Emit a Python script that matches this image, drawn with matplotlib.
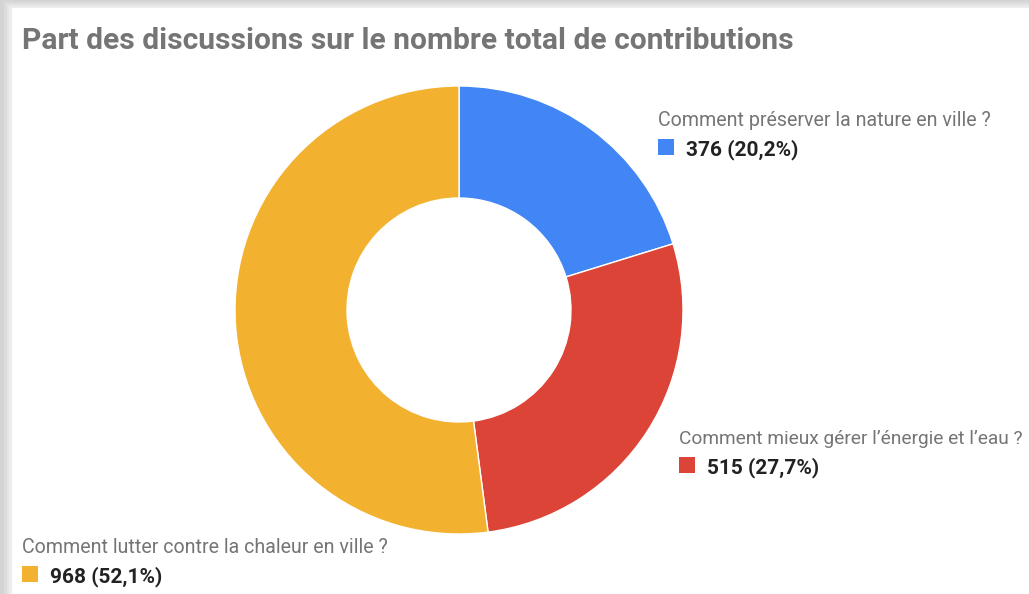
import matplotlib
matplotlib.use("Agg")
import matplotlib.pyplot as plt
from matplotlib.patches import Rectangle

title = "Part des discussions sur le nombre total de contributions"
categories = ["Comment préserver la nature en ville ?",
              "Comment mieux gérer l’énergie et l’eau ?",
              "Comment lutter contre la chaleur en ville ?"]
values = [376, 515, 968]
colors = ["#4285F4", "#DB4437", "#F2B12F"]

W, H = 1029, 594
fig = plt.figure(figsize=(W / 100, H / 100), dpi=100)
fig.patch.set_facecolor("#d4d4d4")

def fx(x):
    return x / W

def fy(y):
    return 1 - y / H

# card with soft shadow
for i, c in enumerate(["#dcdcdc", "#e4e4e4", "#ececec"]):
    fig.patches.append(Rectangle((fx(4 + 2.5 * i), 0), 1, fy(2 + 2 * i), transform=fig.transFigure,
                                 facecolor=c, edgecolor="none", zorder=-3 + i * 0.1))
fig.patches.append(Rectangle((fx(12), 0), 1, fy(8), transform=fig.transFigure,
                             facecolor="white", edgecolor="none", zorder=-2))

fig.text(fx(22), fy(49), title, fontsize=21.6, fontweight="bold", color="#757575",
         family="Roboto", va="baseline", ha="left")

cx, cy, r = 459, 310, 224
ax = fig.add_axes([fx(cx - r), fy(cy + r), 2 * r / W, 2 * r / H])
ax.set_zorder(2)
ax.pie(values, colors=colors, startangle=90, counterclock=False, radius=1,
       wedgeprops=dict(width=0.5, edgecolor="white", linewidth=1))
ax.set_xlim(-1, 1)
ax.set_ylim(-1, 1)
ax.set_aspect("equal")
ax.axis("off")

total = sum(values)
label_pos = [(658, 126), (679, 444), (22, 553)]
label_sizes = [14.1, 13.8, 14.1]
for (x, y), cat, v, col, fs in zip(label_pos, categories, values, colors, label_sizes):
    pct = f"{100 * v / total:.1f}".replace(".", ",")
    fig.text(fx(x), fy(y), cat, fontsize=fs, color="#757575", family="Roboto",
             va="baseline", ha="left", zorder=3)
    fig.patches.append(Rectangle((fx(x), fy(y + 29)), 16 / W, 16 / H, transform=fig.transFigure,
                                 facecolor=col, edgecolor="none", zorder=3))
    fig.text(fx(x + 28), fy(y + 29), f"{v} ({pct}%)", fontsize=15, fontweight="bold",
             color="#222222", family="Roboto", va="baseline", ha="left", zorder=3)

fig.savefig("out.png", dpi=100)
